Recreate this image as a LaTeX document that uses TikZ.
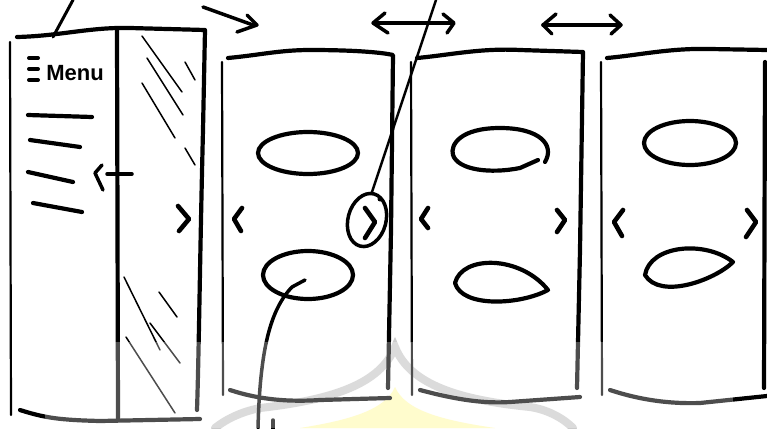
\documentclass[tikz,border=0pt]{standalone}
\usepackage{fontspec}
\setmainfont{Liberation Sans}
\begin{document}
\begin{tikzpicture}[x=1pt,y=-1pt,
  sk/.style={line width=4.2pt,line cap=round,line join=round},
  edge/.style={line width=2.2pt,line cap=round},
  glass/.style={line width=1.5pt,line cap=round},
  chev/.style={line width=4.6pt,line cap=round,line join=round},
  wm/.style={line width=8pt,draw=black!20,line cap=round}]
\useasboundingbox (0,0) rectangle (767,428);
\fill[white] (0,0) rectangle (767,428);

% ---------- watermark ----------
\fill[yellow!28] (300,428) .. controls (350,420) and (385,410) .. (395,387)
  .. controls (405,410) and (440,420) .. (495,428) -- cycle;
\draw[wm] (215,428) .. controls (225,420) and (240,412) .. (260,408)
  .. controls (330,400) and (380,385) .. (395,347)
  .. controls (410,385) and (460,400) .. (530,407)
  .. controls (550,410) and (565,420) .. (573,428);

% ---------- panel 1 (menu) ----------
\draw[edge] (10,42) -- (11,415);
\draw[sk] (17,37) .. controls (60,36) and (90,27) .. (130,28) -- (205,30)
  -- (203,130) .. controls (200,250) and (199,350) .. (197,410);
\draw[sk] (117,30) -- (118,420);
\draw[sk] (20,410) .. controls (45,418) and (60,420) .. (100,421) -- (200,419);
\coordinate (p1top) at (73,0);
\coordinate (p1foot) at (53,37);
\draw[sk,line width=3pt] (p1foot) -- (p1top);
% hamburger icon and label
\draw[sk,line width=4pt] (29,58) -- (38,58) (29,69) -- (38,69) (29,80) -- (38,80);
\node[font=\fontsize{22}{22}\selectfont\bfseries, inner sep=0pt] (menu) at (75,73) {Menu};
% menu lines
\draw[sk] (28,115) -- (92,117);
\draw[sk] (30,140) -- (80,147);
\draw[sk] (28,172) -- (73,182);
\draw[sk] (33,203) -- (82,212);
% back arrow
\draw[sk,line width=3.5pt] (107,174) -- (132,174);
\draw[chev,line width=3.5pt] (102,165) -- (95,173) -- (103,190);
% glass hatching
\draw[glass] (142,36) -- (182,92);
\draw[glass] (147,58) -- (183,115);
\draw[glass] (142,83) -- (175,138);
\draw[glass] (185,62) -- (195,80);
\draw[glass] (185,148) -- (195,165);
\draw[glass] (124,277) -- (160,350);
\draw[glass] (159,292) -- (177,317);
\draw[glass] (150,323) -- (180,363);
\draw[glass] (126,337) -- (175,413);
\draw[chev] (178,206) -- (189,219) -- (179,231);

% ---------- panel 2 ----------
\draw[edge] (222,62) -- (223,395);
\draw[sk] (228,58) .. controls (260,55) and (280,50) .. (310,50)
  .. controls (350,50) and (380,52) .. (393,55) -- (391,230) -- (388,388);
\draw[sk] (230,390) .. controls (260,400) and (290,402) .. (320,400) -- (390,398);
\draw[sk] (308,153) ellipse [x radius=50pt, y radius=21pt];
\draw[sk] (308,275) ellipse [x radius=45pt, y radius=24pt];
\draw[chev] (242,208) -- (234,219) -- (241,231);
\draw[sk,line width=3.5pt] (367,220) ellipse [x radius=19pt, y radius=27pt, rotate=-15];
\draw[chev] (365,208) -- (375,222) -- (365,238);
% pointer lines
\coordinate (pt2) at (436,0);
\coordinate (pt2end) at (372,192);
\draw[line width=2.4pt,line cap=round] (pt2) -- (pt2end);
\fill (380,199) circle (2.5pt);
\coordinate (pb) at (305,280);
\coordinate (pbend) at (258,428);
\draw[sk,line width=3.5pt] (pb) -- (292,287) .. controls (270,310) and (260,350) .. (pbend);
\draw[sk,line width=3.5pt] (273,420) -- (273,430);

% ---------- panel 3 ----------
\draw[edge] (411,62) -- (412,395);
\draw[sk] (417,58) .. controls (450,55) and (480,48) .. (520,50) -- (583,52)
  -- (580,250) -- (577,388);
\draw[sk] (420,390) .. controls (450,398) and (480,404) .. (510,402) -- (580,397);
\draw[sk] (545,162) .. controls (555,145) and (540,128) .. (500,128)
  .. controls (460,128) and (450,145) .. (453,155)
  .. controls (458,170) and (490,174) .. (520,168) -- (538,160);
\draw[sk] (455,283) .. controls (462,255) and (520,255) .. (548,290)
  .. controls (520,305) and (462,308) .. (455,283);
\draw[chev] (428,208) -- (421,219) -- (428,228);
\draw[chev] (557,210) -- (565,220) -- (557,232);

% ---------- panel 4 ----------
\draw[edge] (601,62) -- (602,395);
\draw[sk] (607,58) .. controls (640,55) and (670,48) .. (710,49) -- (767,50);
\draw[sk] (765,62) -- (764,388);
\draw[sk] (610,390) .. controls (640,400) and (670,404) .. (700,403) -- (767,396);
\draw[sk] (690,143) ellipse [x radius=46pt, y radius=22pt];
\draw[sk] (645,275) .. controls (650,245) and (705,240) .. (733,262)
  .. controls (715,280) and (660,300) .. (645,275);
\draw[chev] (623,210) -- (614,222) -- (622,236);
\draw[chev] (747,210) -- (756,222) -- (746,237);

% ---------- top arrows ----------
\coordinate (a0) at (203,7);
\coordinate (a1) at (253,25);
\draw[sk,line width=3.5pt] (a0) -- (a1);
\draw[chev,line width=3.5pt] (247,15) -- (257,25) -- (237,32);
\coordinate (b0) at (374,23);
\coordinate (b1) at (453,23);
\draw[sk,line width=3.5pt] (b0) -- (b1);
\draw[chev,line width=3.5pt] (385,13) -- (373,23) -- (388,33);
\draw[chev,line width=3.5pt] (443,14) -- (454,23) -- (447,33);
\coordinate (c0) at (543,25);
\coordinate (c1) at (620,25);
\draw[sk,line width=3.5pt] (c0) -- (c1);
\draw[chev,line width=3.5pt] (556,14) -- (543,25) -- (552,34);
\draw[chev,line width=3.5pt] (610,15) -- (621,25) -- (611,34);

% ---------- faded bottom band ----------
\fill[white,opacity=0.3] (45,342) rectangle (733,428);
\end{tikzpicture}
\end{document}
